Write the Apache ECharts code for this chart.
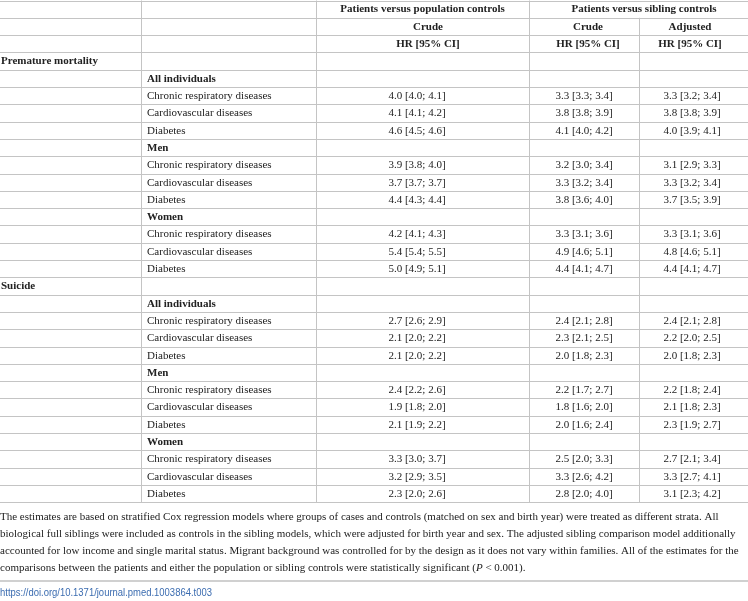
<!DOCTYPE html>
<html>
<head>
<meta charset="utf-8">
<script src="https://cdn.jsdelivr.net/npm/echarts@6/dist/echarts.min.js"></script>
<style>
html,body{margin:0;padding:0;background:#fff;}
#chart{width:748px;height:601px;}
</style>
</head>
<body>
<div id="chart"></div>
<script>
// ---------- data ----------
const sections = ["Premature mortality", "Suicide"];
const groups = ["All individuals", "Men", "Women"];
const outcomes = ["Chronic respiratory diseases", "Cardiovascular diseases", "Diabetes"];
const headerTop = ["Patients versus population controls", "Patients versus sibling controls"];
const headerModel = ["Crude", "Crude", "Adjusted"];
const headerStat = ["HR [95% CI]", "HR [95% CI]", "HR [95% CI]"];

// order: section -> group -> outcome (18 rows)
const popCrudeHR = [4.0,4.1,4.6, 3.9,3.7,4.4, 4.2,5.4,5.0,  2.7,2.1,2.1, 2.4,1.9,2.1, 3.3,3.2,2.3];
const popCrudeLo = [4.0,4.1,4.5, 3.8,3.7,4.3, 4.1,5.4,4.9,  2.6,2.0,2.0, 2.2,1.8,1.9, 3.0,2.9,2.0];
const popCrudeHi = [4.1,4.2,4.6, 4.0,3.7,4.4, 4.3,5.5,5.1,  2.9,2.2,2.2, 2.6,2.0,2.2, 3.7,3.5,2.6];

const sibCrudeHR = [3.3,3.8,4.1, 3.2,3.3,3.8, 3.3,4.9,4.4,  2.4,2.3,2.0, 2.2,1.8,2.0, 2.5,3.3,2.8];
const sibCrudeLo = [3.3,3.8,4.0, 3.0,3.2,3.6, 3.1,4.6,4.1,  2.1,2.1,1.8, 1.7,1.6,1.6, 2.0,2.6,2.0];
const sibCrudeHi = [3.4,3.9,4.2, 3.4,3.4,4.0, 3.6,5.1,4.7,  2.8,2.5,2.3, 2.7,2.0,2.4, 3.3,4.2,4.0];

const sibAdjHR = [3.3,3.8,4.0, 3.1,3.3,3.7, 3.3,4.8,4.4,  2.4,2.2,2.0, 2.2,2.1,2.3, 2.7,3.3,3.1];
const sibAdjLo = [3.2,3.8,3.9, 2.9,3.2,3.5, 3.1,4.6,4.1,  2.1,2.0,1.8, 1.8,1.8,1.9, 2.1,2.7,2.3];
const sibAdjHi = [3.4,3.9,4.1, 3.3,3.4,3.9, 3.6,5.1,4.7,  2.8,2.5,2.3, 2.4,2.3,2.7, 3.4,4.1,4.2];

const footnoteLines = [
  "The estimates are based on stratified Cox regression models where groups of cases and controls (matched on sex and birth year) were treated as different strata. All",
  "biological full siblings were included as controls in the sibling models, which were adjusted for birth year and sex. The adjusted sibling comparison model additionally",
  "accounted for low income and single marital status. Migrant background was controlled for by the design as it does not vary within families. All of the estimates for the",
  "comparisons between the patients and either the population or sibling controls were statistically significant ({i|P} < 0.001)."
];
const doiText = "https://doi.org/10.1371/journal.pmed.1003864.t003";

// ---------- layout ----------
const W = 748;
const colEdges = [0, 141, 316, 529, 639, 748];
const headerCenters = [428, 588, 690];
const valueCenters = [417, 584, 692];
const spanCenters = [422.5, 644];
const SERIF = "'Liberation Serif','Times New Roman',serif";
const FS = 11;
const FN_FS = 11;
const TEXT = '#222';
const LINE = '#c4c4c4';

function fmt(h, l, u) { return h.toFixed(1) + ' [' + l.toFixed(1) + '; ' + u.toFixed(1) + ']'; }

// build cells: [x, row, text, align, bold]
const cells = [];
let row = 0;
cells.push([spanCenters[0], 0, headerTop[0], 'center', 1]);
cells.push([spanCenters[1], 0, headerTop[1], 'center', 1]);
headerModel.forEach((t, i) => cells.push([headerCenters[i], 1, t, 'center', 1]));
headerStat.forEach((t, i) => cells.push([headerCenters[i], 2, t, 'center', 1]));
row = 3;
let k = 0;
sections.forEach(sec => {
  cells.push([colEdges[0] + 1, row, sec, 'left', 1]); row++;
  groups.forEach(g => {
    cells.push([colEdges[1] + 6, row, g, 'left', 1]); row++;
    outcomes.forEach(o => {
      cells.push([colEdges[1] + 6, row, o, 'left', 0]);
      cells.push([valueCenters[0], row, fmt(popCrudeHR[k], popCrudeLo[k], popCrudeHi[k]), 'center', 0]);
      cells.push([valueCenters[1], row, fmt(sibCrudeHR[k], sibCrudeLo[k], sibCrudeHi[k]), 'center', 0]);
      cells.push([valueCenters[2], row, fmt(sibAdjHR[k], sibAdjLo[k], sibAdjHi[k]), 'center', 0]);
      k++; row++;
    });
  });
});
const NROWS = row; // 29

// lines: [x1, r1, x2, r2]
const lines = [];
for (let r = 0; r <= NROWS; r++) lines.push([0, r, W, r]);
lines.push([colEdges[1], 0, colEdges[1], NROWS]);
lines.push([colEdges[2], 0, colEdges[2], NROWS]);
lines.push([colEdges[3], 0, colEdges[3], NROWS]);
lines.push([colEdges[4], 1, colEdges[4], NROWS]);

const chart = echarts.init(document.getElementById('chart'), null, { renderer: 'canvas' });
const ROWH = 17.3;
chart.setOption({
  animation: false,
  grid: { left: 0, right: 0, top: 0.5, height: NROWS * ROWH },
  xAxis: { type: 'value', min: 0, max: W, show: false },
  yAxis: { type: 'value', min: 0, max: NROWS, inverse: true, show: false },
  series: [
    {
      type: 'custom',
      data: lines,
      silent: true,
      renderItem: function (params, api) {
        const p1 = api.coord([api.value(0), api.value(1)]);
        const p2 = api.coord([api.value(2), api.value(3)]);
        const vert = p1[0] === p2[0];
        const x1 = vert ? Math.round(p1[0]) + 0.5 : p1[0];
        const x2 = vert ? Math.round(p2[0]) + 0.5 : p2[0];
        const y1 = vert ? p1[1] : Math.round(p1[1]) + 0.5;
        const y2 = vert ? p2[1] : Math.round(p2[1]) + 0.5;
        return { type: 'line', shape: { x1: x1, y1: y1, x2: x2, y2: y2 }, style: { stroke: LINE, lineWidth: 1 } };
      }
    },
    {
      type: 'custom',
      data: cells.map(c => ({ value: [c[0], c[1] + 0.5], text: c[2], align: c[3], bold: c[4] })),
      silent: true,
      renderItem: function (params, api) {
        const d = cells[params.dataIndex];
        const p = api.coord([d[0], d[1] + 0.5]);
        return {
          type: 'text',
          x: p[0], y: p[1] + 0.5,
          style: {
            text: d[2],
            fontFamily: SERIF, fontSize: FS, fontWeight: d[4] ? 'bold' : 'normal',
            fill: TEXT, align: d[3], verticalAlign: 'middle'
          }
        };
      }
    }
  ],
  graphic: footnoteLines.map((t, i) => ({
    type: 'text', left: 0, top: 512 + i * 17,
    style: {
      text: t, fontFamily: SERIF, fontSize: FN_FS, fill: TEXT,
      rich: { i: { fontStyle: 'italic', fontFamily: SERIF, fontSize: FN_FS, fill: TEXT } }
    }
  })).concat([
    { type: 'rect', left: 0, top: 580, shape: { width: W, height: 2 }, style: { fill: '#d0d0d0' } },
    { type: 'text', x: 0, y: 587, scaleX: 0.86, style: { text: doiText, fontFamily: "'Liberation Sans',Arial,sans-serif", fontSize: 11, fill: '#3b6cb0' } }
  ])
});
</script>
</body>
</html>
